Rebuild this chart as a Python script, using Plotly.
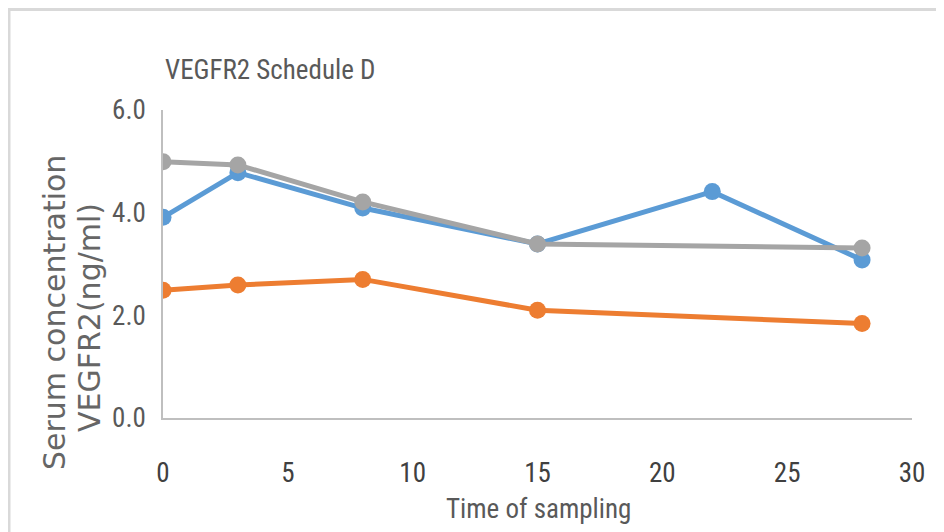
import plotly.graph_objects as go

# Data
days_a = [0, 3, 8, 15, 22, 28]
blue_vals = [3.91, 4.78, 4.09, 3.39, 4.41, 3.08]
days_b = [0, 3, 8, 15, 28]
orange_vals = [2.49, 2.59, 2.70, 2.10, 1.84]
gray_vals = [4.99, 4.93, 4.21, 3.39, 3.31]

x_ticks = [0, 5, 10, 15, 20, 25, 30]
y_ticks = [0, 2, 4, 6]

NARROW = "Liberation Sans Narrow, Arial Narrow, Roboto Condensed, sans-serif"
TXT = "#595959"

fig = go.Figure()
for xs, ys, col in [(days_a, blue_vals, "#5B9BD5"),
                    (days_b, orange_vals, "#ED7D31"),
                    (days_b, gray_vals, "#A5A5A5")]:
    fig.add_trace(go.Scatter(x=xs, y=ys, mode="lines+markers",
                             line=dict(color=col, width=5),
                             marker=dict(color=col, size=17)))

# page body has an 8px margin: work in reference pixels, shift by OFF
OFF = 8
W, H = 944 - OFF, 532 - OFF
L, R, T, B = 163 - OFF, 912 - OFF, 110 - OFF, 418 - OFF
pw, ph = R - L, B - T

def px2x(p):
    return (p - OFF - L) / pw

def py2y(p):
    return (B - (p - OFF)) / ph

fig.update_layout(
    width=W, height=H,
    margin=dict(l=L, r=W - R, t=T, b=H - B, pad=0),
    paper_bgcolor="white", plot_bgcolor="white",
    showlegend=False,
    title=dict(text="VEGFR2 Schedule D", x=(165 - OFF) / W, xanchor="left",
               y=1 - (70 - OFF) / H, yanchor="middle",
               font=dict(family=NARROW, size=27, color=TXT)),
    xaxis=dict(range=[0, 30], tickvals=x_ticks, showgrid=False, zeroline=False,
               showline=True, linecolor="#BFBFBF", linewidth=1.5,
               ticks="", ticklabelstandoff=30,
               tickfont=dict(family=NARROW, size=27, color="#404040")),
    yaxis=dict(range=[0, 6], tickvals=y_ticks, tickformat=".1f", showgrid=False,
               zeroline=False, showline=True, linecolor="#BFBFBF", linewidth=1.5,
               ticks="", ticklabelstandoff=10,
               tickfont=dict(family=NARROW, size=27, color=TXT)),
    shapes=[
        dict(type="line", xref="paper", yref="paper",
             x0=px2x(4), x1=px2x(950), y0=py2y(9.5), y1=py2y(9.5),
             line=dict(color="#D9D9D9", width=3)),
        dict(type="line", xref="paper", yref="paper",
             x0=px2x(9), x1=px2x(9), y0=py2y(9.5), y1=py2y(540),
             line=dict(color="#D9D9D9", width=3)),
    ],
    annotations=[
        dict(text="Time of sampling", xref="paper", yref="paper",
             x=px2x(538), y=py2y(509), xanchor="center", yanchor="middle",
             showarrow=False, font=dict(family=NARROW, size=27, color=TXT)),
        dict(text="Serum concentration", xref="paper", yref="paper",
             x=px2x(54), y=py2y(313), xanchor="center", yanchor="middle",
             textangle=-90, showarrow=False,
             font=dict(family="DejaVu Sans", size=30, color="#666666")),
        dict(text="VEGFR2(ng/ml)", xref="paper", yref="paper",
             x=px2x(89), y=py2y(318), xanchor="center", yanchor="middle",
             textangle=-90, showarrow=False,
             font=dict(family="DejaVu Sans", size=30, color="#666666")),
    ],
)

fig.write_html("out.html")
